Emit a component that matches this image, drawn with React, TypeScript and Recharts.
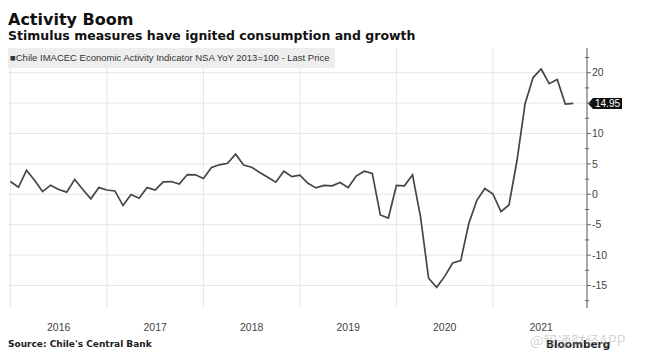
import React from 'react';
import { LineChart, Line, XAxis, YAxis, ReferenceLine } from 'recharts';

// Month-end observations, Dec 2015 .. Oct 2021
const startYear = 2015;
const startMonth = 12;
const monthCount = 71;
const months: string[] = [];
for (let k = 0; k < monthCount; k++) {
  const m0 = startMonth - 1 + k;
  const yy = startYear + Math.floor(m0 / 12);
  const mm = (m0 % 12) + 1;
  months.push(`${yy}-${mm < 10 ? '0' + mm : mm}`);
}

const imacecYoY = [
  2.1, 1.15, 3.95, 2.3, 0.45, 1.5, 0.8, 0.35, 2.45, 0.8, -0.75, 1.1,
  0.7, 0.55, -1.85, -0.05, -0.65, 1.1, 0.7, 2.05, 2.1, 1.7, 3.25, 3.2,
  2.6, 4.4, 4.85, 5.1, 6.6, 4.8, 4.45, 3.6, 2.8, 2.0, 3.8, 2.9,
  3.15, 1.8, 1.05, 1.45, 1.4, 1.95, 1.1, 3.0, 3.8, 3.45, -3.4, -3.9,
  1.45, 1.4, 3.2, -3.7, -13.8, -15.3, -13.5, -11.3, -10.9, -4.8, -1.0, 0.95,
  0.05, -2.85, -1.75, 5.6, 14.9, 19.2, 20.6, 18.2, 18.9, 14.85, 14.95,
];

const yearLabels = ['2016', '2017', '2018', '2019', '2020', '2021'];
const yTicks = [-17.5, -15, -12.5, -10, -7.5, -5, -2.5, 0, 2.5, 5, 7.5, 10, 12.5, 15, 17.5, 20, 22.5];
const gridValues = [-15, -10, -5, 0, 5, 10, 15, 20];
const yDomain: [number, number] = [-18.7, 24.06];
const xDomain: [number, number] = [-0.3, 71.7];

const data = months.map((m, i) => ({ i, m, v: imacecYoY[i] }));
// year label sits mid-year (end of June), gridline at year start (end of previous December)
const yearTickPos = yearLabels.map((y) => months.indexOf(`${y}-06`));
const yearBoundaries = yearLabels.map((y) => months.indexOf(`${Number(y) - 1}-12`));
const lastValue = imacecYoY[imacecYoY.length - 1];

const YTick = (props: any) => {
  const { x, y, payload } = props;
  const v = payload.value;
  const major = Math.abs(v % 5) < 1e-6;
  if (!major) {
    return <line x1={x - 2} x2={x + 2} y1={y} y2={y} stroke="#666" strokeWidth={1} />;
  }
  const hidden = Math.abs(v - lastValue) < 2; // covered by last-price flag
  return (
    <g>
      <line x1={x} x2={x + 4} y1={y} y2={y} stroke="#666" strokeWidth={1} />
      {!hidden && (
        <text x={x + 5} y={y} dy="0.35em" fontSize={10.5} fill="#444" fontFamily="Liberation Sans">
          {String(v)}
        </text>
      )}
    </g>
  );
};

const FlagLabel = (props: any) => {
  const vb = props.viewBox || {};
  const x = (vb.x || 0) + (vb.width || 0) + 1;
  const y = vb.y || 0;
  const h = 5.5;
  const pts = `${x},${y} ${x + 5},${y - h} ${x + 34},${y - h} ${x + 34},${y + h} ${x + 5},${y + h}`;
  return (
    <g>
      <polygon points={pts} fill="#111" />
      <text x={x + 19.5} y={y} dy="0.35em" textAnchor="middle" fontSize={10} fill="#fff" fontFamily="Liberation Sans">
        {lastValue.toFixed(2)}
      </text>
    </g>
  );
};

export default function App() {
  return (
    <div style={{ position: 'absolute', left: 0, top: 0, width: 645, height: 358, background: '#fff', overflow: 'hidden' }}>
      <div style={{ position: 'absolute', left: 0, top: 0 }}>
        <LineChart width={645} height={358} data={data} margin={{ top: 48, right: 8, bottom: 20, left: 8 }}>
          {gridValues.map((g) => (
            <ReferenceLine key={'h' + g} y={g} stroke="#e6e6e6" strokeWidth={1} />
          ))}
          {yearBoundaries.map((b) => (
            <ReferenceLine key={'v' + b} x={b} stroke="#e6e6e6" strokeWidth={1} />
          ))}
          <XAxis
            dataKey="i"
            type="number"
            domain={xDomain}
            ticks={yearTickPos}
            tickFormatter={(t: number) => yearLabels[yearTickPos.indexOf(t)] || ''}
            axisLine={false}
            tickLine={false}
            tickSize={0}
            tickMargin={16}
            height={30}
            interval={0}
            allowDataOverflow
            tick={{ fontSize: 10.5, fill: '#444', fontFamily: 'Liberation Sans' }}
          />
          <YAxis
            orientation="right"
            type="number"
            domain={yDomain}
            ticks={yTicks}
            interval={0}
            allowDataOverflow
            width={50}
            axisLine={{ stroke: '#555', strokeWidth: 1 }}
            tickLine={false}
            tickSize={0}
            tickMargin={0}
            tick={<YTick />}
          />
          <Line
            type="linear"
            dataKey="v"
            stroke="#454545"
            strokeWidth={1.7}
            dot={false}
            isAnimationActive={false}
          />
          <ReferenceLine y={lastValue} stroke="none" strokeOpacity={0} label={<FlagLabel />} />
        </LineChart>
      </div>
      <div style={{ position: 'absolute', left: 8, top: 11.5, fontFamily: 'DejaVu Sans', fontWeight: 700, fontSize: 16, lineHeight: '16px', color: '#111', whiteSpace: 'nowrap' }}>
        Activity Boom
      </div>
      <div style={{ position: 'absolute', left: 8, top: 30.4, fontFamily: 'DejaVu Sans', fontWeight: 700, fontSize: 12.5, lineHeight: '12.5px', color: '#111', whiteSpace: 'nowrap' }}>
        Stimulus measures have ignited consumption and growth
      </div>
      <div style={{ position: 'absolute', left: 8, top: 48, width: 327, height: 20, background: '#eeeeee', fontFamily: 'Liberation Sans', fontSize: 9.5, lineHeight: '20px', color: '#333', whiteSpace: 'nowrap', paddingLeft: 2, boxSizing: 'border-box' }}>
        ■Chile IMACEC Economic Activity Indicator NSA YoY 2013=100 - Last Price
      </div>
      <div style={{ position: 'absolute', left: 8, top: 339, fontFamily: 'DejaVu Sans', fontWeight: 700, fontSize: 9, lineHeight: '10px', color: '#222', whiteSpace: 'nowrap' }}>
        Source: Chile's Central Bank
      </div>
      <div style={{ position: 'absolute', left: 546, top: 338, fontFamily: 'DejaVu Sans', fontWeight: 700, fontSize: 10.5, lineHeight: '12px', color: '#222', whiteSpace: 'nowrap' }}>
        Bloomberg
      </div>
      <div style={{ position: 'absolute', left: 530, top: 331, fontFamily: '"Noto Sans CJK SC"', fontSize: 14, lineHeight: '18px', color: 'rgba(170,170,170,0.5)', whiteSpace: 'nowrap' }}>
        @智通财经APP
      </div>
    </div>
  );
}
